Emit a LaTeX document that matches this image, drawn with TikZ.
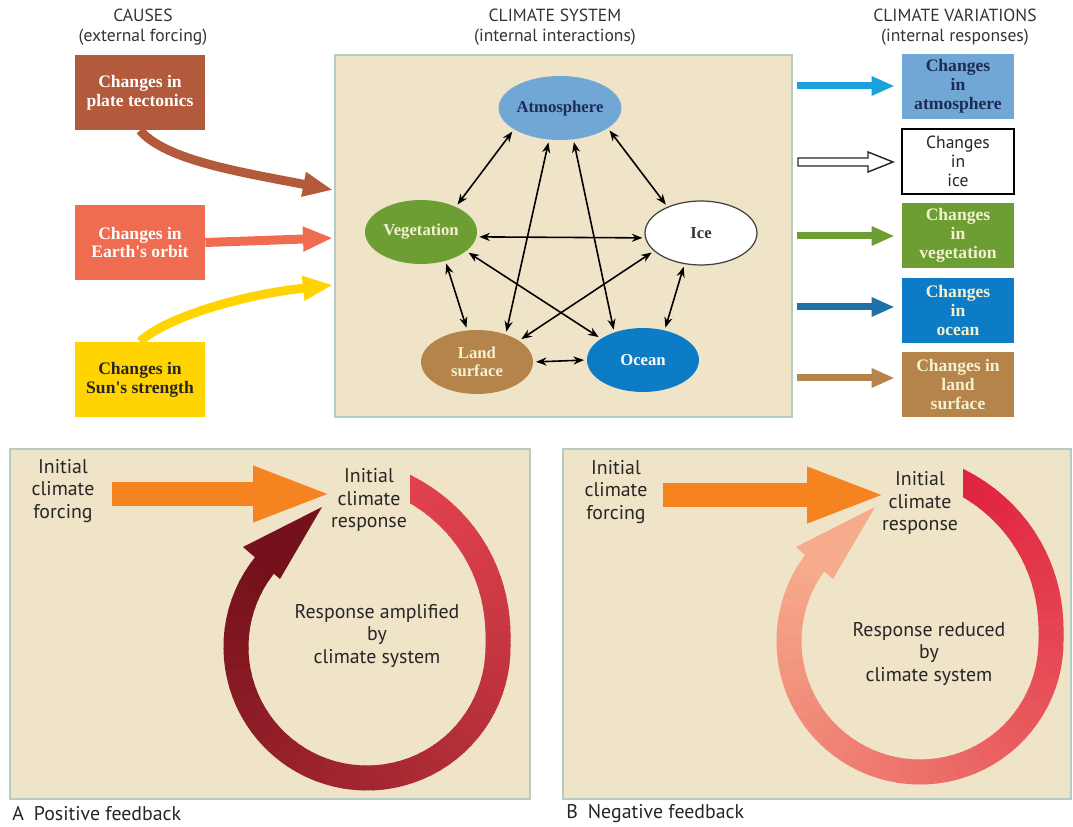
\documentclass[tikz,border=0pt]{standalone}
\usepackage{fontspec}
\setmainfont{PT Sans}
\newfontfamily\boxfont{Liberation Serif}
\usetikzlibrary{arrows.meta,shapes.geometric}

\definecolor{panelfill}{HTML}{EFE3C8}
\definecolor{panelline}{HTML}{B3CCC4}
\definecolor{tectcol}{HTML}{B25A3B}
\definecolor{orbitcol}{HTML}{EF6C50}
\definecolor{suncol}{HTML}{FFD400}
\definecolor{atmcol}{HTML}{70A7D5}
\definecolor{atmtxt}{HTML}{1D2B55}
\definecolor{vegcol}{HTML}{6C9E33}
\definecolor{landcol}{HTML}{B5844A}
\definecolor{oceancol}{HTML}{0D7CC6}
\definecolor{cream}{HTML}{F4F1D2}
\definecolor{cyancol}{HTML}{1BA1DB}
\definecolor{deepblue}{HTML}{1F6FA8}
\definecolor{forcecol}{HTML}{F5831F}
\definecolor{ringAs}{HTML}{E5444F}
\definecolor{ringAe}{HTML}{74111A}
\definecolor{ringBs}{HTML}{DF1F3C}
\definecolor{ringBe}{HTML}{F6AC8C}

\begin{document}
\begin{tikzpicture}[x=0.02cm,y=-0.02cm,
  declare function={ringr(\t)=131+33*(max(0,\t)/75)*sqrt(max(0,\t)/75);},
  head/.style={align=center,font=\fontsize{10}{11.3}\selectfont,text=black!80,inner sep=0},
  cause/.style={rectangle,minimum width=2.6cm,minimum height=1.5cm,inner sep=0,align=center,font=\boxfont\bfseries\fontsize{10}{10.8}\selectfont},
  resp/.style={rectangle,minimum width=2.24cm,minimum height=1.3cm,inner sep=0,align=center,font=\boxfont\bfseries\fontsize{10}{10.8}\selectfont},
  sphere/.style={ellipse,minimum width=2.24cm,minimum height=1.28cm,inner sep=0,align=center,font=\boxfont\bfseries\fontsize{9.5}{10.5}\selectfont},
  link/.style={{Stealth[length=6pt,width=4.6pt]}-{Stealth[length=6pt,width=4.6pt]},line width=0.9pt,shorten <=1.5pt,shorten >=1.5pt},
  push/.style={line width=0.18cm,-{Triangle[length=0.6cm,width=0.46cm]}},
  outarrow/.style={line width=0.14cm,-{Triangle[length=0.46cm,width=0.36cm]},shorten >=0.14cm},
  panel/.style={fill=panelfill,draw=panelline,line width=0.8pt},
  fbtext/.style={align=center,font=\fontsize{11.3}{12.6}\selectfont,text=black!85,inner sep=0},
  force/.style={line width=0.5cm,forcecol,-{Triangle[length=1.6cm,width=1cm]}}]
\useasboundingbox (0,0) rectangle (1073,827);

% top row
\node[head] (hcause) at (143,27) {CAUSES\\(external forcing)};
\node[head] (hsys) at (555,27) {CLIMATE SYSTEM\\(internal interactions)};
\node[head] (hvar) at (955,27) {CLIMATE VARIATIONS\\(internal responses)};

\node[panel,minimum width=9.14cm,minimum height=7.24cm] (sys) at (563.5,236) {};

\node[cause,fill=tectcol,text=white] (tect) at (140,92.5) {Changes in\\plate tectonics};
\node[cause,fill=orbitcol,text=white] (orbit) at (140,242.5) {Changes in\\Earth's orbit};
\node[cause,fill=suncol,text=black!85] (sun) at (140,379.5) {Changes in\\Sun's strength};

\coordinate (inT) at (333,190);
\coordinate (inO) at (333,238);
\coordinate (inS) at (333,285);
\draw[push,tectcol] (tect.south) .. controls (165,160) and (240,172) .. (inT);
\draw[push,orbitcol] (orbit.east) -- (inO);
\draw[push,suncol] (sun.north) .. controls (165,318) and (240,295) .. (inS);

\node[sphere,fill=atmcol,text=atmtxt] (atm) at (560,108) {Atmosphere};
\node[sphere,fill=vegcol,text=cream] (veg) at (421,232) {Vegetation};
\node[sphere,fill=white,draw=black!75,line width=0.7pt,text=black!80] (ice) at (701,233) {Ice};
\node[sphere,fill=landcol,text=cream] (land) at (477,362) {Land\\surface};
\node[sphere,fill=oceancol,text=white] (ocean) at (643,360) {Ocean};

\draw[link] (atm.205) -- (veg.36);
\draw[link] (atm.337) -- (ice.142);
\draw[link] (atm.251) -- (land.44);
\draw[link] (atm.293) -- (ocean.136);
\draw[link] (veg.-5) -- (ice.185);
\draw[link] (veg.310) -- (land.107);
\draw[link] (veg.337) -- (ocean.153);
\draw[link] (ice.201) -- (land.27);
\draw[link] (ice.242) -- (ocean.54);
\draw[link] (land.0) -- (ocean.180);

\node[resp,fill=atmcol,text=atmtxt] (ratm) at (958,86.5) {Changes\\in\\atmosphere};
\node[resp,fill=white,draw=black,line width=0.8pt,font=\fontsize{10}{10.8}\selectfont,text=black!85] (rice) at (958,161.5) {Changes\\in\\ice};
\node[resp,fill=vegcol,text=cream] (rveg) at (958,235.5) {Changes\\in\\vegetation};
\node[resp,fill=oceancol,text=cream] (rocean) at (958,310.5) {Changes\\in\\ocean};
\node[resp,fill=landcol,text=cream] (rland) at (958,384.5) {Changes in\\land\\surface};

\coordinate (oA) at (797,86);
\coordinate (oI) at (798,162);
\coordinate (oV) at (797,236);
\coordinate (oO) at (797,307);
\coordinate (oL) at (797,378);
\draw[outarrow,cyancol] (oA) -- (ratm.west |- oA);
\draw[outarrow,vegcol] (oV) -- (rveg.west |- oV);
\draw[outarrow,deepblue] (oO) -- (rocean.west |- oO);
\draw[outarrow,landcol] (oL) -- (rland.west |- oL);
\draw[fill=white,draw=black!85,line width=0.8pt] (oI) ++(0,-4) -- ++(70,0) -- ++(0,-6) -- ++(25,10) -- ++(-25,10) -- ++(0,-6) -- ++(-70,0) -- cycle;

% feedback panels
\node[panel,minimum width=10.4cm,minimum height=7cm] (pA) at (270,624) {};
\node[panel,minimum width=10.16cm,minimum height=7cm] (pB) at (817,624) {};

\foreach \dx/\cy/\ca/\cb in {0/647/ringAs/ringAe,553/641/ringBs/ringBe}{
  \foreach \i in {0,...,75}{
    \pgfmathsetmacro\ta{85-4*\i}
    \pgfmathsetmacro\tb{\ta-4.6}
    \pgfmathtruncatemacro\p{100-100*\i/75}
    \begin{scope}
      \ifnum\i<7 \clip ({410+\dx},430) rectangle ({560+\dx},620); \fi
      \draw[line width=0.5cm,draw={\ca!\p!\cb}] plot[domain=\tb:\ta,samples=4] ({367+\dx+ringr(\x)*cos(\x)},{\cy-ringr(\x)*sin(\x)});
    \end{scope}
  }
  \fill[\cb] (243+\dx,547) -- (322+\dx,507) -- (280+\dx,579) -- cycle;
}

\node[fbtext] (forcA) at (63,491) {Initial\\climate\\forcing};
\node[fbtext] (respA) at (369,500) {Initial\\climate\\response};
\node[fbtext] (ampA) at (377,636) {Response amplified\\by\\climate system};
\coordinate (tipA) at (333,494);
\draw[force] (forcA.east |- tipA) ++(17,0) -- (tipA);

\node[fbtext] (forcB) at (616,492) {Initial\\climate\\forcing};
\node[fbtext] (respB) at (920,503) {Initial\\climate\\response};
\node[fbtext] (redB) at (929,654) {Response reduced\\by\\climate system};
\coordinate (tipB) at (887,495);
\draw[force] (forcB.east |- tipB) ++(15,0) -- (tipB);

\node[fbtext,anchor=west] (capA) at (12,814) {A\enspace Positive feedback};
\node[fbtext,anchor=west] (capB) at (566,814) {B\enspace Negative feedback};
\end{tikzpicture}
\end{document}
